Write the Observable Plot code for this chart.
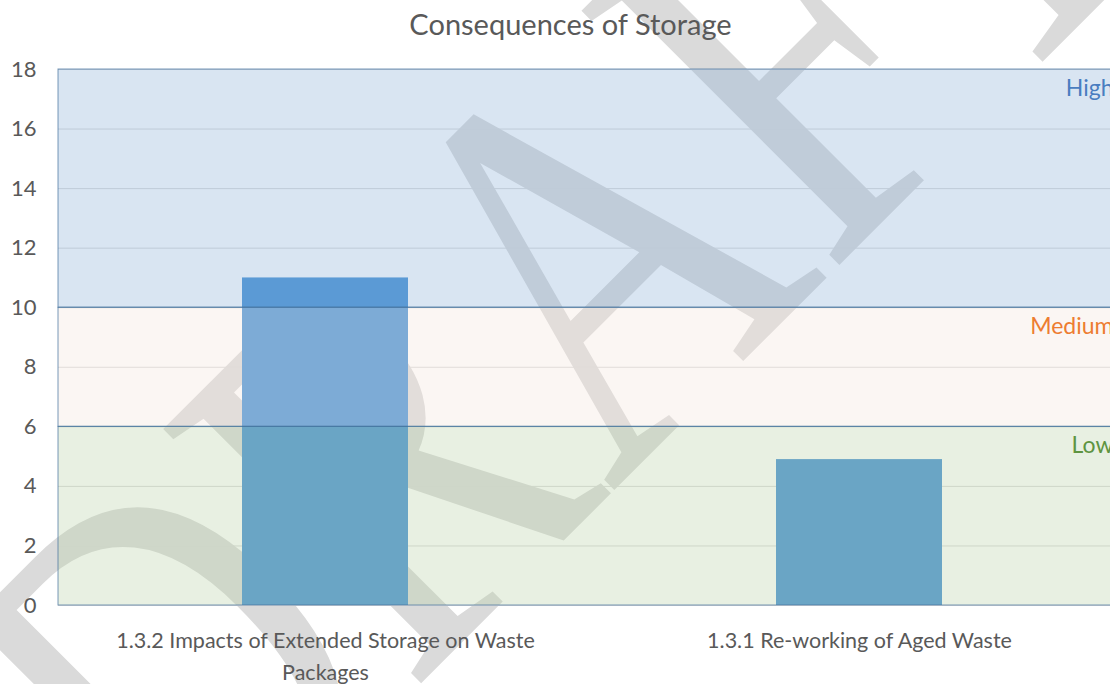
<!DOCTYPE html>
<html>
<head>
<meta charset="utf-8">
<script src="https://cdn.jsdelivr.net/npm/d3@7"></script>
<script src="https://cdn.jsdelivr.net/npm/@observablehq/plot@0.6"></script>
<style>
  html, body { margin: 0; padding: 0; background: #fff; overflow: hidden; width: 1110px; height: 684px; }
  #chart { width: 1110px; height: 684px; overflow: hidden; }
  #chart svg { max-width: none !important; display: block; }
</style>
</head>
<body>
<div id="chart"></div>
<script>
const title = "Consequences of Storage";
const watermark = "DRAFT";
const categories = ["1.3.2", "1.3.1"];
const tickLabels = ["1.3.2 Impacts of Extended Storage on Waste\nPackages", "1.3.1 Re-working of Aged Waste"];
const values = [11, 4.9];
const yTicks = [0, 2, 4, 6, 8, 10, 12, 14, 16, 18];
const bandNames = ["Low", "Medium", "High"];
const bandLows = [0, 6, 10];
const bandHighs = [6, 10, 18];
const bandFills = ["#B9D1A7", "#F3E4DA", "#8BB1D9"];
const bandLabelColors = ["#5E9441", "#ED7D31", "#4A7DC0"];

const bars = categories.map((c, i) => ({category: c, value: values[i]}));
const bands = bandNames.map((n, i) => ({name: n, lo: bandLows[i], hi: bandHighs[i], fill: bandFills[i], labelColor: bandLabelColors[i]}));
const font = "Lato, 'Open Sans', sans-serif";

const chart = Plot.plot({
  width: 1126,
  height: 684,
  marginLeft: 58,
  marginRight: 0,
  marginTop: 69,
  marginBottom: 79,
  style: {fontFamily: font, color: "#595959", background: "transparent", overflow: "visible"},
  x: {domain: categories, paddingInner: 0.689, paddingOuter: 0.3445, axis: null},
  y: {domain: [0, 18], axis: null},
  color: {type: "identity"},
  marks: [
    Plot.text([watermark], {frameAnchor: "middle", lineAnchor: "middle", text: d => d, rotate: -45, fontSize: 553, fontFamily: "'Liberation Serif', serif", fill: "#DADADA", dx: -31, dy: -45}),
    Plot.ruleY(yTicks, {stroke: "#D9D9D9", strokeWidth: 1}),
    Plot.barY(bars, {x: "category", y: "value", fill: "#448FD4"}),
    Plot.rectY(bands, {y1: "lo", y2: "hi", fill: "fill", fillOpacity: 0.33}),
    Plot.rectY(bands, {y1: "lo", y2: "hi", fill: "none", stroke: "#41719C", strokeOpacity: 0.7, strokeWidth: 1}),
    Plot.axisY({ticks: yTicks, tickSize: 0, tickPadding: 22, fontSize: 22, label: null, tickFormat: d => d}),
    Plot.axisX({tickSize: 0, tickPadding: 20, fontSize: 21.5, lineHeight: 1.49, label: null, tickFormat: d => tickLabels[categories.indexOf(d)]}),
    Plot.text(bands, {y: "hi", text: "name", fill: "labelColor", frameAnchor: "right", lineAnchor: "middle", textAnchor: "end", dx: -13, dy: 19, fontSize: 23}),
    Plot.text([title], {frameAnchor: "top", lineAnchor: "middle", text: d => d, dx: -22, dy: -44, fontSize: 29, fill: "#595959"})
  ]
});
// compress the watermark horizontally (stretched WordArt look)
const wm = chart.querySelector('g[aria-label="text"] text');
if (wm) wm.setAttribute("transform", wm.getAttribute("transform") + " scale(0.77,1)");
document.getElementById("chart").appendChild(chart);
</script>
</body>
</html>
